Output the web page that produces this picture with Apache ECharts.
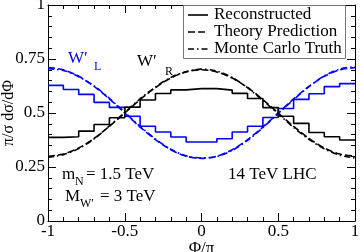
<!DOCTYPE html>
<html>
<head>
<meta charset="utf-8">
<script src="https://cdn.jsdelivr.net/npm/echarts@6/dist/echarts.min.js"></script>
<style>html,body{margin:0;padding:0;background:#fff}#c{width:360px;height:252px}</style>
</head>
<body>
<div id="c"></div>
<script>
// Histogram bin left edges (bin width 0.1), last edge = 1
const binEdges = [-1,-0.9,-0.8,-0.7,-0.6,-0.5,-0.4,-0.3,-0.2,-0.1,0,0.1,0.2,0.3,0.4,0.5,0.6,0.7,0.8,0.9,1];
// Reconstructed histograms
const recoL = [0.628,0.609,0.586,0.549,0.526,0.485,0.439,0.412,0.389,0.366,0.366,0.381,0.412,0.439,0.479,0.521,0.563,0.589,0.622,0.636];
const recoR = [0.387,0.390,0.416,0.447,0.478,0.527,0.560,0.590,0.607,0.613,0.613,0.606,0.591,0.567,0.525,0.485,0.452,0.410,0.390,0.375];
// Curve sample points
const phiCurve = [-1,-0.9,-0.8,-0.7,-0.6,-0.5,-0.4,-0.3,-0.2,-0.1,0,0.1,0.2,0.3,0.4,0.5,0.6,0.7,0.8,0.9,1];
const theoryR = [0.300,0.310,0.338,0.382,0.438,0.500,0.562,0.618,0.662,0.690,0.700,0.690,0.662,0.618,0.562,0.500,0.438,0.382,0.338,0.310,0.300];
const mcR     = [0.295,0.307,0.335,0.380,0.440,0.503,0.566,0.620,0.665,0.692,0.703,0.694,0.664,0.617,0.558,0.496,0.433,0.378,0.334,0.305,0.292];
const theoryL = [0.710,0.700,0.670,0.623,0.565,0.500,0.435,0.377,0.330,0.300,0.290,0.300,0.330,0.377,0.435,0.500,0.565,0.623,0.670,0.700,0.710];
const mcL     = [0.705,0.697,0.668,0.626,0.568,0.503,0.438,0.380,0.332,0.302,0.292,0.298,0.327,0.373,0.432,0.498,0.562,0.622,0.672,0.703,0.715];
const legendNames = ['Reconstructed','Theory Prediction','Monte Carlo Truth'];

const FONT = 'Liberation Serif';
const BLUE = '#0000ff', BLACK = '#000000';
const DASH = [7,3], DASHDOT = [6,3,1.5,3];
const legendDashes = [null, DASH, DASHDOT];

function histData(vals){
  const d = vals.map((v,i)=>[binEdges[i], v]);
  d.push([binEdges[binEdges.length-1], vals[vals.length-1]]);
  return d;
}
function curveData(vals){ return phiCurve.map((p,i)=>[p, vals[i]]); }

function lineSeries(name, data, color, type, step){
  const s = {name, type:'line', data, symbol:'none', smooth: step ? false : 0.3,
    lineStyle:{color, width:1.6, type}, itemStyle:{color}, z:3, animation:false};
  if (step) s.step = 'end';
  return s;
}

const axisCommon = {
  nameMoveOverlap:false,
  axisLine:{show:true, onZero:false, lineStyle:{color:'#000', width:1}},
  axisTick:{show:true, inside:true, length:8, lineStyle:{color:'#000', width:1}},
  minorTick:{show:true, splitNumber:5, length:4, lineStyle:{color:'#000', width:1}},
  splitLine:{show:false}, minorSplitLine:{show:false}
};

// Legend drawn as graphic elements
const legendGraphics = [
  {type:'rect', shape:{x:183.5, y:5.5, width:162, height:53}, style:{fill:'#fff', stroke:'#777', lineWidth:1}, z:10}
];
legendNames.forEach((n,i)=>{
  const y = 15 + i*17;
  legendGraphics.push({type:'line', shape:{x1:188, y1:y, x2:208, y2:y},
    style:{stroke:'#000', lineWidth:1.6, lineDash: legendDashes[i] || null}, z:11});
  legendGraphics.push({type:'text', x:214, y:y,
    style:{text:n, font:'17px "Liberation Serif"', fill:'#000', textVerticalAlign:'middle', verticalAlign:'middle'}, z:11});
});

const chart = echarts.init(document.getElementById('c'), null, {renderer:'canvas'});
chart.setOption({
  animation:false,
  backgroundColor:'#fff',
  grid:{left:48, right:5, top:5, bottom:31, containLabel:false, outerBoundsMode:'none'},
  xAxis:[
    Object.assign({type:'value', min:-1, max:1, interval:0.5, position:'bottom',
      name:'Φ/π', nameLocation:'middle', nameGap:19,
      nameTextStyle:{fontFamily:FONT, fontSize:17, color:'#000'},
      axisLabel:{fontFamily:FONT, fontSize:17, color:'#000', margin:2}}, axisCommon),
    Object.assign({type:'value', min:-1, max:1, interval:0.5, position:'top',
      axisLabel:{show:false}}, axisCommon)
  ],
  yAxis:[
    Object.assign({type:'value', min:0, max:1, interval:0.25, position:'left',
      name:'π/σ dσ/dΦ', nameLocation:'middle', nameGap:31,
      nameTextStyle:{fontFamily:FONT, fontSize:16, color:'#000'},
      axisLabel:{fontFamily:FONT, fontSize:17, color:'#000', margin:3}}, axisCommon),
    Object.assign({type:'value', min:0, max:1, interval:0.25, position:'right',
      axisLabel:{show:false}}, axisCommon)
  ],
  series:[
    lineSeries('recoL', histData(recoL), BLUE, 'solid', true),
    lineSeries('recoR', histData(recoR), BLACK, 'solid', true),
    lineSeries('theoryL', curveData(theoryL), BLUE, DASH, false),
    lineSeries('mcL', curveData(mcL), BLUE, DASHDOT, false),
    lineSeries('theoryR', curveData(theoryR), BLACK, DASH, false),
    lineSeries('mcR', curveData(mcR), BLACK, DASHDOT, false)
  ],
  graphic: legendGraphics.concat([
    {type:'text', left:68, top:50, style:{text:'W′', font:'17px "Liberation Serif"', fill:BLUE}},
    {type:'text', left:94, top:61, style:{text:'L', font:'12px "Liberation Serif"', fill:BLUE}},
    {type:'text', left:137, top:53, style:{text:'W′', font:'17px "Liberation Serif"', fill:BLACK}},
    {type:'text', left:165, top:66, style:{text:'R', font:'12px "Liberation Serif"', fill:BLACK}},
    {type:'text', left:62, top:166, style:{text:'m', font:'17px "Liberation Serif"', fill:BLACK}},
    {type:'text', left:75, top:176, style:{text:'N', font:'12px "Liberation Serif"', fill:BLACK}},
    {type:'text', left:86, top:166, style:{text:'= 1.5 TeV', font:'17px "Liberation Serif"', fill:BLACK}},
    {type:'text', left:65, top:188, style:{text:'M', font:'17px "Liberation Serif"', fill:BLACK}},
    {type:'text', left:80, top:198, style:{text:'W′', font:'12px "Liberation Serif"', fill:BLACK}},
    {type:'text', left:100, top:188, style:{text:'= 3 TeV', font:'17px "Liberation Serif"', fill:BLACK}},
    {type:'text', left:228, top:166, style:{text:'14 TeV LHC', font:'17px "Liberation Serif"', fill:BLACK}}
  ])
});
</script>
</body>
</html>
